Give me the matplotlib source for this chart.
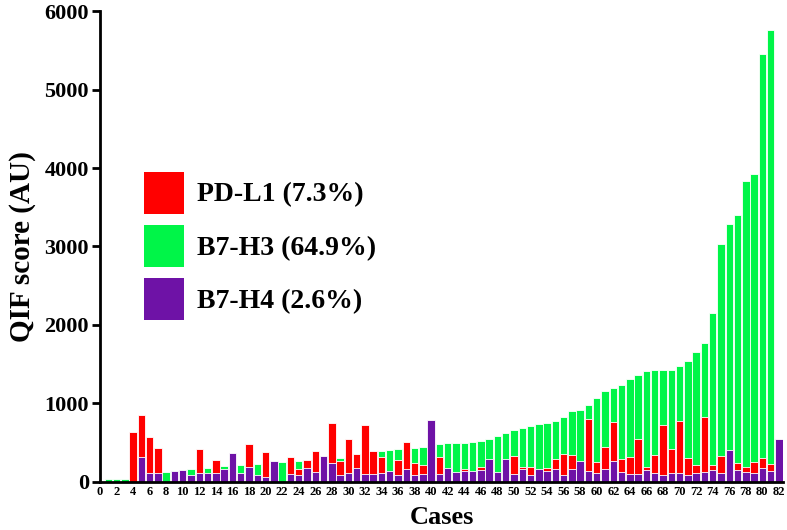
import numpy as np
import matplotlib
matplotlib.use("Agg")
import matplotlib.pyplot as plt
from matplotlib.patches import Patch

# case numbers 1..82
cases = list(range(1, 83))

# QIF scores (AU); hidden parts are estimates
pdl1 = [0, 0, 0, 637, 850, 573, 430, 0, 100, 100,
        60, 420, 90, 276, 120, 300, 90, 480, 70, 375,
        200, 0, 318, 166, 277, 395, 250, 752, 264, 540,
        357, 723, 395, 318, 100, 280, 509, 235, 213, 500,
        314, 150, 100, 165, 110, 185, 200, 100, 200, 327,
        187, 187, 140, 170, 296, 357, 340, 200, 798, 251,
        437, 764, 285, 318, 539, 187, 340, 722, 416, 777,
        301, 212, 820, 208, 327, 300, 242, 191, 246, 301,
        225, 400]

b7h3 = [30, 30, 30, 40, 50, 60, 80, 127, 135, 145,
        162, 165, 170, 185, 200, 205, 213, 220, 225, 235,
        245, 255, 262, 270, 275, 285, 295, 300, 306, 330,
        345, 370, 385, 395, 403, 413, 425, 433, 446, 470,
        483, 490, 500, 500, 505, 518, 546, 588, 619, 661,
        683, 708, 740, 752, 780, 828, 900, 920, 976, 1074,
        1155, 1193, 1236, 1308, 1367, 1414, 1422, 1422, 1427, 1478,
        1541, 1660, 1775, 2157, 3036, 3291, 3405, 3834, 3928, 5456,
        5754, 0]

b7h4 = [0, 0, 0, 0, 318, 115, 115, 0, 140, 153,
        80, 110, 110, 110, 157, 365, 110, 182, 89, 64,
        265, 0, 102, 83, 178, 127, 327, 235, 83, 108,
        178, 93, 93, 115, 132, 83, 166, 83, 102, 785,
        93, 178, 123, 136, 136, 144, 290, 128, 287, 98,
        160, 85, 166, 136, 163, 85, 163, 267, 140, 110,
        161, 268, 119, 98, 98, 149, 106, 85, 110, 110,
        89, 110, 119, 149, 106, 408, 149, 119, 110, 174,
        140, 539]

labels = ["PD-L1 (7.3%)", "B7-H3 (64.9%)", "B7-H4 (2.6%)"]
colors = ["#FF0000", "#00F548", "#6E12A6"]

plt.rcParams['font.family'] = ['Liberation Serif', 'DejaVu Serif']
plt.rcParams['font.weight'] = 'bold'

fig = plt.figure(figsize=(7.87, 5.30), dpi=100)
ax = fig.add_axes([0.127, 0.091, 0.868, 0.888])

# overlaid bars: green at the back, then red, purple in front
for vals, c in [(b7h3, colors[1]), (pdl1, colors[0]), (b7h4, colors[2])]:
    ax.bar(cases, vals, width=0.9, color=c, edgecolor="white", linewidth=0.6)

ax.set_xlim(0, 82.5)
ax.set_ylim(0, 6000)
ax.set_xticks(range(0, 83, 2))
ax.set_yticks(range(0, 6001, 1000))
ax.tick_params(axis='x', length=0, pad=3, labelsize=9)
ax.tick_params(axis='y', length=6, width=2, pad=2, labelsize=16)
for s in ['top', 'right']:
    ax.spines[s].set_visible(False)
for s in ['left', 'bottom']:
    ax.spines[s].set_linewidth(2)

ax.set_ylabel("QIF score (AU)", fontsize=21, fontweight='bold', labelpad=6)
ax.set_xlabel("Cases", fontsize=19, fontweight='bold', labelpad=6)

handles = [Patch(facecolor=c, edgecolor='none') for c in colors]
fig.legend(handles, labels, loc='upper left', bbox_to_anchor=(0.183, 0.676),
           frameon=False, handlelength=1.44, handleheight=1.95,
           labelspacing=0.4, handletextpad=0.47, borderpad=0, borderaxespad=0,
           prop={'weight': 'bold', 'size': 20})

fig.savefig("out.png", dpi=100)
